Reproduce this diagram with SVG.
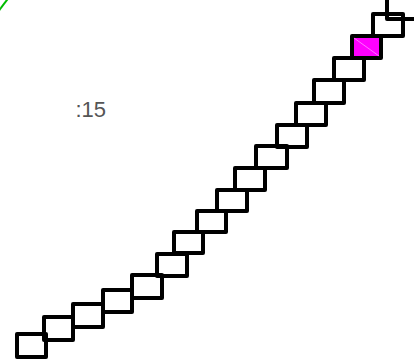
<svg xmlns="http://www.w3.org/2000/svg" width="414" height="360" viewBox="0 0 414 360">
<style>
.b{fill:none;stroke:#000;stroke-width:4;stroke-linejoin:round}
.m{fill:#ff00ff;stroke:#000;stroke-width:4;stroke-linejoin:round}
.lbl{font-family:"Liberation Sans",Arial,sans-serif;font-size:22px;fill:#555}
</style>
<rect x="0" y="0" width="414" height="360" fill="#fff"/>
<g id="connectors">
<line x1="-3" y1="13" x2="10" y2="-4" stroke="#00bb00" stroke-width="2"/>
</g>
<g id="label"><text class="lbl" x="75.5" y="117">:15</text></g>
<g id="n1"><rect class="b" x="17" y="334" width="29" height="23"/></g>
<g id="n2"><rect class="b" x="44" y="317" width="29" height="23"/></g>
<g id="n3"><rect class="b" x="73" y="304" width="30" height="23"/></g>
<g id="n4"><rect class="b" x="103" y="290" width="29" height="22"/></g>
<g id="n5"><rect class="b" x="132" y="275" width="30" height="23"/></g>
<g id="n6"><rect class="b" x="157" y="254" width="30" height="22"/></g>
<g id="n7"><rect class="b" x="174" y="232" width="29" height="21"/></g>
<g id="n8"><rect class="b" x="197" y="211" width="29" height="21"/></g>
<g id="n9"><rect class="b" x="217" y="190" width="30" height="21"/></g>
<g id="n10"><rect class="b" x="235" y="168" width="30" height="22"/></g>
<g id="n11"><rect class="b" x="256" y="146" width="31" height="22"/></g>
<g id="n12"><rect class="b" x="277" y="125" width="30" height="22"/></g>
<g id="n13"><rect class="b" x="296" y="103" width="30" height="22"/></g>
<g id="n14"><rect class="b" x="314" y="80" width="30" height="23"/></g>
<g id="n15"><rect class="b" x="334" y="58" width="30" height="22"/></g>
<g id="n16"><rect class="m" x="352" y="36" width="29" height="22"/><line x1="354" y1="38" x2="379" y2="56" stroke="#ffffff" stroke-opacity="0.45" stroke-width="1"/></g>
<g id="n17"><rect class="b" x="373" y="14" width="30" height="22"/></g>
<g id="n18"><rect class="b" x="387" y="-3" width="30" height="22"/></g>
</svg>
